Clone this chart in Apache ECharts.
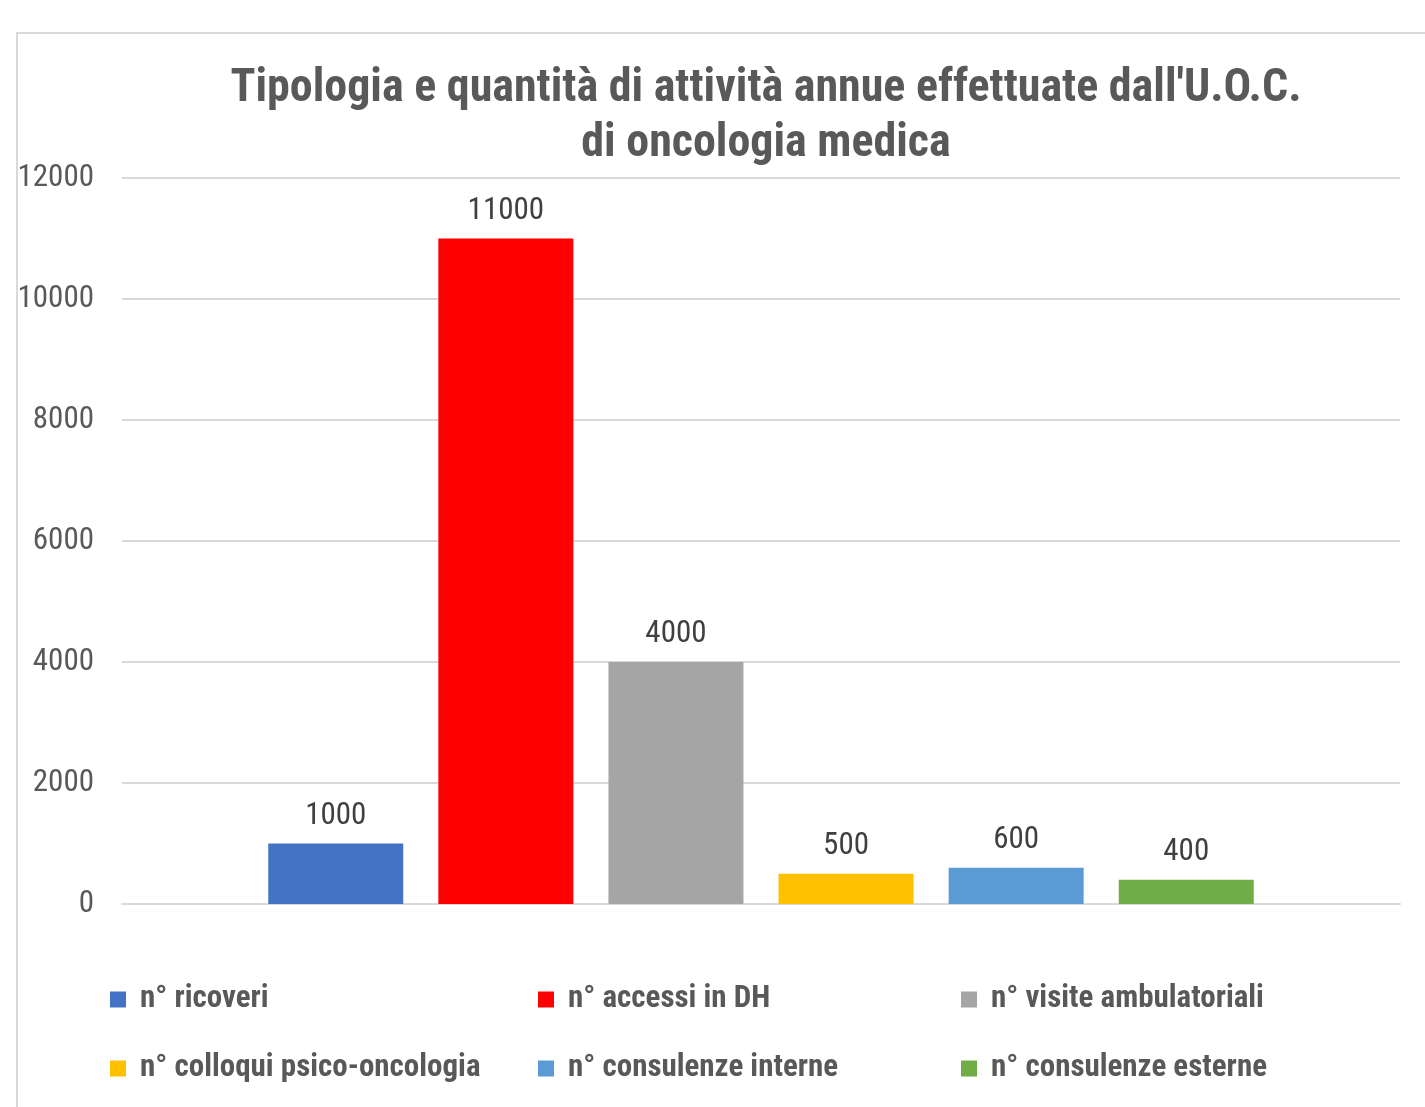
<!DOCTYPE html>
<html>
<head>
<meta charset="utf-8">
<script src="https://cdn.jsdelivr.net/npm/echarts@6/dist/echarts.min.js"></script>
<style>
html,body{margin:0;padding:0;background:#fff;overflow:hidden;}
#c{width:1425px;height:1107px;}
</style>
</head>
<body>
<div id="c"></div>
<script>
const titleLines = ["Tipologia e quantità di attività annue effettuate dall'U.O.C.", "di oncologia medica"];
const categories = [""];
const seriesNames = ["n° ricoveri", "n° accessi in DH", "n° visite ambulatoriali", "n° colloqui psico-oncologia", "n° consulenze interne", "n° consulenze esterne"];
const seriesValues = [1000, 11000, 4000, 500, 600, 400];
const seriesColors = ["#4472C4", "#FF0000", "#A5A5A5", "#FFC000", "#5B9BD5", "#70AD47"];
const yTicks = [0, 2000, 4000, 6000, 8000, 10000, 12000];

const FONT = "'Liberation Sans Narrow', 'Arial Narrow', 'Roboto Condensed', 'DejaVu Sans Condensed', sans-serif";
const chart = echarts.init(document.getElementById('c'), null, {renderer: 'canvas'});

const series = seriesNames.map((n, i) => ({
  name: n,
  type: 'bar',
  data: [seriesValues[i]],
  barWidth: 135,
  barGap: '26%',
  itemStyle: {color: seriesColors[i]},
  label: {show: true, position: 'top', distance: 12, color: '#404040', fontSize: 31, fontFamily: FONT},
  emphasis: {disabled: true}
}));

const legendCols = [110, 538, 961];
const legends = legendCols.map((x, c) => ({
  orient: 'vertical',
  left: x,
  top: 984,
  padding: 0,
  itemWidth: 16,
  itemHeight: 16,
  itemGap: 38,
  icon: 'rect',
  data: [seriesNames[c], seriesNames[c + 3]],
  textStyle: {color: '#595959', fontSize: 31, fontWeight: 'bold', fontFamily: FONT, padding: [0, 0, 0, 9]},
  selectedMode: false
}));

chart.setOption({
  animation: false,
  backgroundColor: '#fff',
  title: {
    text: titleLines.join('\n'),
    left: 761,
    textAlign: 'center',
    top: 57,
    textStyle: {color: '#595959', fontSize: 46, fontWeight: 'bold', fontFamily: FONT, lineHeight: 55}
  },
  graphic: [{
    type: 'rect',
    shape: {x: 17, y: 33, width: 1500, height: 1200},
    style: {fill: 'none', stroke: '#d9d9d9', lineWidth: 2},
    silent: true
  }],
  legend: legends,
  grid: {left: 122, right: 25, top: 178, bottom: 203, containLabel: false},
  xAxis: {
    type: 'category',
    data: categories,
    axisLine: {show: true, lineStyle: {color: '#d9d9d9', width: 2}},
    axisTick: {show: false},
    axisLabel: {show: false}
  },
  yAxis: {
    type: 'value',
    min: yTicks[0],
    max: yTicks[yTicks.length - 1],
    interval: yTicks[1] - yTicks[0],
    axisLine: {show: false},
    axisTick: {show: false},
    splitLine: {lineStyle: {color: '#d9d9d9', width: 2}},
    axisLabel: {color: '#595959', fontSize: 31, fontFamily: FONT, margin: 28, padding: [4, 0, 0, 0], formatter: v => String(v)}
  },
  series: series
});
</script>
</body>
</html>
